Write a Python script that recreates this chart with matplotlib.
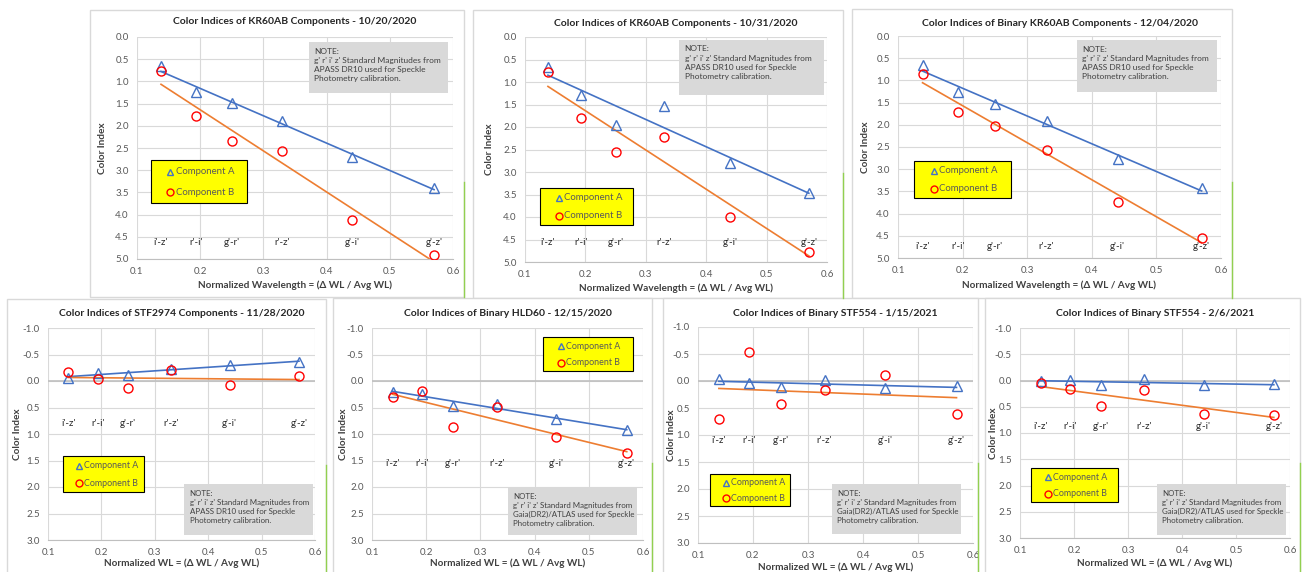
import numpy as np
import matplotlib
matplotlib.use('Agg')
from matplotlib import pyplot as plt
from matplotlib.patches import Rectangle
from matplotlib.lines import Line2D

plt.rcParams['font.family'] = ['Lato', 'DejaVu Sans']

W, H = 1304, 572

# normalized wavelength of each colour index, same for every chart
norm_wl = [0.138, 0.193, 0.250, 0.330, 0.440, 0.570]
index_names = ["i'-z'", "r'-i'", "g'-r'", "r'-z'", "g'-i'", "g'-z'"]

# colour indices (A = triangles, B = circles)
kr60_1020_a = [0.66, 1.24, 1.49, 1.90, 2.71, 3.39]
kr60_1020_b = [0.77, 1.79, 2.35, 2.56, 4.13, 4.91]
kr60_1031_a = [0.67, 1.28, 1.96, 1.54, 2.81, 3.47]
kr60_1031_b = [0.78, 1.79, 2.56, 2.22, 4.00, 4.77]
kr60_1204_a = [0.65, 1.27, 1.54, 1.91, 2.77, 3.43]
kr60_1204_b = [0.85, 1.72, 2.02, 2.56, 3.73, 4.55]
stf2974_a = [-0.06, -0.16, -0.12, -0.23, -0.30, -0.36]
stf2974_b = [-0.17, -0.04, 0.13, -0.21, 0.08, -0.09]
hld60_a = [0.21, 0.24, 0.47, 0.44, 0.71, 0.93]
hld60_b = [0.30, 0.19, 0.86, 0.49, 1.05, 1.35]
stf554_0115_a = [-0.03, 0.03, 0.11, -0.02, 0.13, 0.10]
stf554_0115_b = [0.70, -0.54, 0.43, 0.17, -0.11, 0.61]
stf554_0206_a = [0.00, -0.01, 0.09, -0.02, 0.09, 0.07]
stf554_0206_b = [0.05, 0.16, 0.49, 0.19, 0.63, 0.66]

titles = [
    "Color Indices of KR60AB Components - 10/20/2020",
    "Color Indices of KR60AB Components - 10/31/2020",
    "Color Indices of Binary KR60AB Components - 12/04/2020",
    "Color Indices of STF2974 Components - 11/28/2020",
    "Color Indices of Binary HLD60 - 12/15/2020",
    "Color Indices of Binary STF554 - 1/15/2021",
    "Color Indices of Binary STF554 - 2/6/2021",
]
series = [
    (kr60_1020_a, kr60_1020_b), (kr60_1031_a, kr60_1031_b), (kr60_1204_a, kr60_1204_b),
    (stf2974_a, stf2974_b), (hld60_a, hld60_b), (stf554_0115_a, stf554_0115_b),
    (stf554_0206_a, stf554_0206_b),
]
catalog = ["APASS DR10", "APASS DR10", "APASS DR10", "APASS DR10",
           "Gaia(DR2)/ATLAS", "Gaia(DR2)/ATLAS", "Gaia(DR2)/ATLAS"]
label_y = [4.62, 4.56, 4.75, 0.8, 1.55, 1.1, 0.88]

# layout in pixels of the screenshot: frame, plot area, label positions
frames = [(90, 10, 464, 297), (473, 10, 843, 298), (852, 9, 1232, 298),
          (7, 299, 326, 590), (333, 298, 652, 590), (663, 298, 978, 590), (985, 298, 1300, 590)]
plots = [(137, 37, 453, 259), (525, 37, 827, 262), (898, 36, 1221, 258),
         (48, 328, 315, 540), (372, 328, 643, 540), (698, 327, 973, 543), (1020, 328, 1290, 538)]
title_y = [22, 24, 24, 313, 314, 313, 313]
xlab_y = [285, 288, 285, 563, 563, 567, 563]
ylab_x = [102, 490, 865, 18, 343, 672, 993]
legend_box = [(0.044, 0.252, 0.348, 0.446), (0.05, 0.164, 0.358, 0.329), (0.05, 0.27, 0.35, 0.437),
              (0.056, 0.226, 0.36, 0.396), (0.63, 0.797, 0.963, 0.958), (0.044, 0.171, 0.335, 0.319),
              (0.04, 0.171, 0.363, 0.333)]
note_box = [(0.544, 0.748, 0.984, 0.977), (0.51, 0.742, 0.99, 0.987), (0.554, 0.748, 0.988, 0.982),
            (0.51, 0.024, 0.993, 0.264), (0.50, 0.024, 0.978, 0.25), (0.487, 0.042, 0.956, 0.273),
            (0.507, 0.014, 0.985, 0.257)]
green_lines = [(464, 182, 297), (843, 173, 298), (1232, 182, 298),
               (326, 465, 572), (652, 463, 572), (978, 463, 572), (1300, 463, 572)]

BLUE = '#4472C4'
ORANGE = '#ED7D31'
RED = '#FF0000'


def fig_rect(x0, y0, x1, y1):
    return [x0 / W, 1 - y1 / H, (x1 - x0) / W, (y1 - y0) / H]


def draw_panel(fig, i):
    a, b = series[i]
    top_row = i < 3
    fx0, fy0, fx1, fy1 = frames[i]
    fig.add_artist(Rectangle((fx0 / W, 1 - fy1 / H), (fx1 - fx0) / W, (fy1 - fy0) / H,
                             transform=fig.transFigure, fc='white', ec='#D9D9D9', lw=1, zorder=0))
    ax = fig.add_axes(fig_rect(*plots[i]))
    ax.set_facecolor('none')
    ax.set_xlim(0.1, 0.6)
    ax.set_xticks(np.arange(0.1, 0.61, 0.1))
    if top_row:
        ax.set_ylim(5.0, 0.0)
        ax.set_yticks(np.arange(0.0, 5.01, 0.5))
    else:
        ax.set_ylim(3.0, -1.0)
        ax.set_yticks(np.arange(-1.0, 3.01, 0.5))
        ax.axhline(0, color='#BFBFBF', lw=1.2, zorder=1)
    ax.xaxis.set_major_formatter(matplotlib.ticker.FormatStrFormatter('%.1f'))
    ax.yaxis.set_major_formatter(matplotlib.ticker.FormatStrFormatter('%.1f'))
    ax.grid(True, color='#D9D9D9', lw=0.8)
    ax.set_axisbelow(True)
    for s in ['top', 'right', 'left']:
        ax.spines[s].set_visible(False)
    ax.spines['bottom'].set_color('#BFBFBF')
    ax.tick_params(length=0, labelsize=7, colors='#595959', pad=6)

    x = np.array(norm_wl)
    for vals, col in ((a, BLUE), (b, ORANGE)):
        k, c = np.polyfit(x, vals, 1)
        xs = np.array([x.min(), x.max()])
        ax.plot(xs, k * xs + c, color=col, lw=1.2, zorder=2)
    ax.plot(x, a, ls='none', marker='^', ms=6.5, mfc='none', mec=BLUE, mew=1, zorder=3)
    ax.plot(x, b, ls='none', marker='o', ms=6.5, mfc='none', mec=RED, mew=1, zorder=3)

    for xv, name in zip(norm_wl, index_names):
        ax.text(xv, label_y[i], name, ha='center', va='center', fontsize=7, color='#262626')

    # legend box
    lx0, ly0, lx1, ly1 = legend_box[i]
    ax.add_patch(Rectangle((lx0, ly0), lx1 - lx0, ly1 - ly0, transform=ax.transAxes,
                           fc='#FFFF00', ec='black', lw=0.8, zorder=5))
    leg_size = 6.9 if top_row else 6.4
    for frac, mk, col, txt in ((0.27, '^', BLUE, 'Component A'), (0.75, 'o', RED, 'Component B')):
        yy = ly1 - frac * (ly1 - ly0)
        ax.plot([lx0 + 0.2 * (lx1 - lx0)], [yy], transform=ax.transAxes, marker=mk, ms=5,
                mfc='none', mec=col, mew=1, clip_on=False, zorder=6)
        ax.text(lx0 + 0.26 * (lx1 - lx0), yy, txt, transform=ax.transAxes, fontsize=leg_size,
                color='#595959', va='center', ha='left', zorder=6)

    # note box
    nx0, ny0, nx1, ny1 = note_box[i]
    ax.add_patch(Rectangle((nx0, ny0), nx1 - nx0, ny1 - ny0, transform=ax.transAxes,
                           fc='#D9D9D9', ec='none', zorder=5))
    note = ("NOTE:\ng' r' i' z' Standard Magnitudes from\n" + catalog[i] +
            " used for Speckle\nPhotometry calibration.")
    ax.annotate(note, xy=(nx0, ny1), xycoords='axes fraction', xytext=(4, -4),
                textcoords='offset points', va='top', ha='left',
                fontsize=6.0 if top_row else 5.7,
                color='#404040', linespacing=1.35, zorder=6)

    px0, py0, px1, py1 = plots[i]
    fig.text((px0 + px1) / 2 / W, 1 - title_y[i] / H, titles[i], ha='center', va='center',
             fontsize=7.5, fontweight='bold', color='#262626')
    xlab = ("Normalized Wavelength = (\u0394 WL / Avg WL)" if top_row
            else "Normalized WL = (\u0394 WL / Avg WL)")
    fig.text((px0 + px1) / 2 / W, 1 - xlab_y[i] / H, xlab, ha='center', va='center',
             fontsize=7.2, fontweight='bold', color='#404040')
    fig.text(ylab_x[i] / W, 1 - (py0 + py1) / 2 / H, 'Color Index', ha='center', va='center',
             rotation=90, fontsize=7.2, fontweight='bold', color='#404040')


def main():
    fig = plt.figure(figsize=(W / 100, H / 100), dpi=100)
    for i in range(len(titles)):
        draw_panel(fig, i)
    for gx, gy0, gy1 in green_lines:
        fig.add_artist(Line2D([gx / W, gx / W], [1 - gy0 / H, 1 - gy1 / H],
                              transform=fig.transFigure, color='#92D050', lw=1))
    fig.savefig('out.png', dpi=100)


if __name__ == '__main__':
    main()
